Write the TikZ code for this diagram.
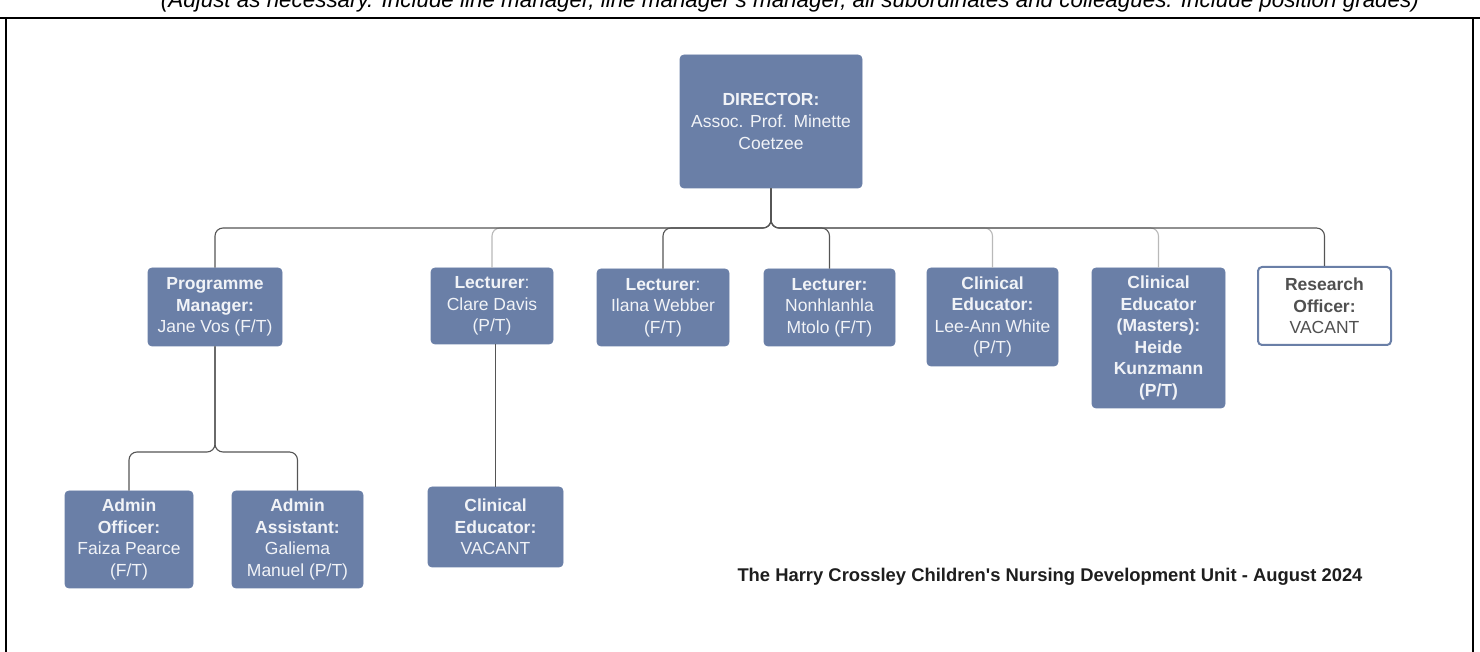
\documentclass[tikz,border=0pt]{standalone}
\usepackage{fontspec}
\setmainfont{Liberation Sans}
\definecolor{boxblue}{RGB}{106,127,167}
\definecolor{boxtext}{RGB}{241,243,247}
\definecolor{linkgray}{RGB}{85,85,85}
\definecolor{faintgray}{RGB}{185,185,185}
\tikzset{
  box/.style={draw=boxblue, fill=boxblue, rounded corners=2pt, align=center,
    text=boxtext, inner sep=1pt, font=\fontsize{8.75}{10.8}\selectfont},
  openbox/.style={box, fill=white, line width=1pt, text={rgb,255:red,80;green,80;blue,80}},
  link/.style={draw=linkgray, line width=0.55pt, rounded corners=4pt},
  faintlink/.style={link, draw=faintgray},
}
\begin{document}
\begin{tikzpicture}[x=0.5pt, y=-0.5pt]
  \useasboundingbox (0,0) rectangle (1480,652);
  % page frame and the cut-off instruction line
  \node[anchor=base, font=\itshape\fontsize{11.2}{13}\selectfont] (note) at (790,8)
    {(Adjust as necessary. Include line manager, line manager's manager, all subordinates and colleagues. Include position grades)};
  \draw[line width=1pt] (0,18) -- (1480,18) (6,18) -- (6,652) (1473,18) -- (1473,652);

  \node[box, minimum width=91pt, minimum height=66.5pt] (dir) at (771,121.5)
    {\textbf{DIRECTOR:}\\Assoc. Prof. Minette\\Coetzee};

  \node[box, minimum width=67pt, minimum height=39pt] (pm) at (215,307)
    {\textbf{Programme}\\\textbf{Manager:}\\Jane Vos (F/T)};
  \node[box, minimum width=61pt, minimum height=38pt] (clare) at (492,306)
    {\textbf{Lecturer}:\\Clare Davis\\(P/T)};
  \node[box, minimum width=66pt, minimum height=38.5pt] (ilana) at (663,307.5)
    {\textbf{Lecturer}:\\Ilana Webber\\(F/T)};
  \node[box, minimum width=65.5pt, minimum height=38.5pt] (nonhl) at (829.5,307.5)
    {\textbf{Lecturer:}\\Nonhlanhla\\Mtolo (F/T)};
  \node[box, minimum width=65.5pt, minimum height=49pt] (leeann) at (992.5,317)
    {\textbf{Clinical}\\\textbf{Educator:}\\Lee-Ann White\\(P/T)};
  \node[box, minimum width=66.5pt, minimum height=70pt] (heide) at (1158.5,338)
    {\textbf{Clinical}\\\textbf{Educator}\\\textbf{(Masters):}\\\textbf{Heide}\\\textbf{Kunzmann}\\\textbf{(P/T)}};
  \node[openbox, minimum width=66.5pt, minimum height=39pt] (research) at (1324.5,306)
    {\textbf{Research}\\\textbf{Officer:}\\VACANT};

  \node[box, minimum width=64pt, minimum height=48.5pt] (adminoff) at (129,539.5)
    {\textbf{Admin}\\\textbf{Officer:}\\Faiza Pearce\\(F/T)};
  \node[box, minimum width=65.5pt, minimum height=48.5pt] (adminass) at (297.5,539.5)
    {\textbf{Admin}\\\textbf{Assistant:}\\Galiema\\Manuel (P/T)};
  \node[box, minimum width=67.5pt, minimum height=40pt] (clined) at (495.5,527)
    {\textbf{Clinical}\\\textbf{Educator:}\\VACANT};

  \node[font=\bfseries\fontsize{9.2}{11}\selectfont, text={rgb,255:red,30;green,30;blue,30}] (unit) at (1050,577)
    {The Harry Crossley Children\textquotesingle s Nursing Development Unit - August 2024};

  % connectors
  \coordinate (bus) at (0,228);
  \coordinate (subbus) at (0,452);
  \foreach \c in {clare,leeann,heide}
    \draw[faintlink] (dir.south) |- (\c.north |- bus) -- (\c.north);
  \foreach \c in {pm,ilana,nonhl,research}
    \draw[link] (dir.south) |- (\c.north |- bus) -- (\c.north);
  \foreach \c in {adminoff,adminass}
    \draw[link] (pm.south) |- (\c.north |- subbus) -- (\c.north);
  \draw[link] (clare.south -| clined.north) -- (clined.north);
\end{tikzpicture}
\end{document}
